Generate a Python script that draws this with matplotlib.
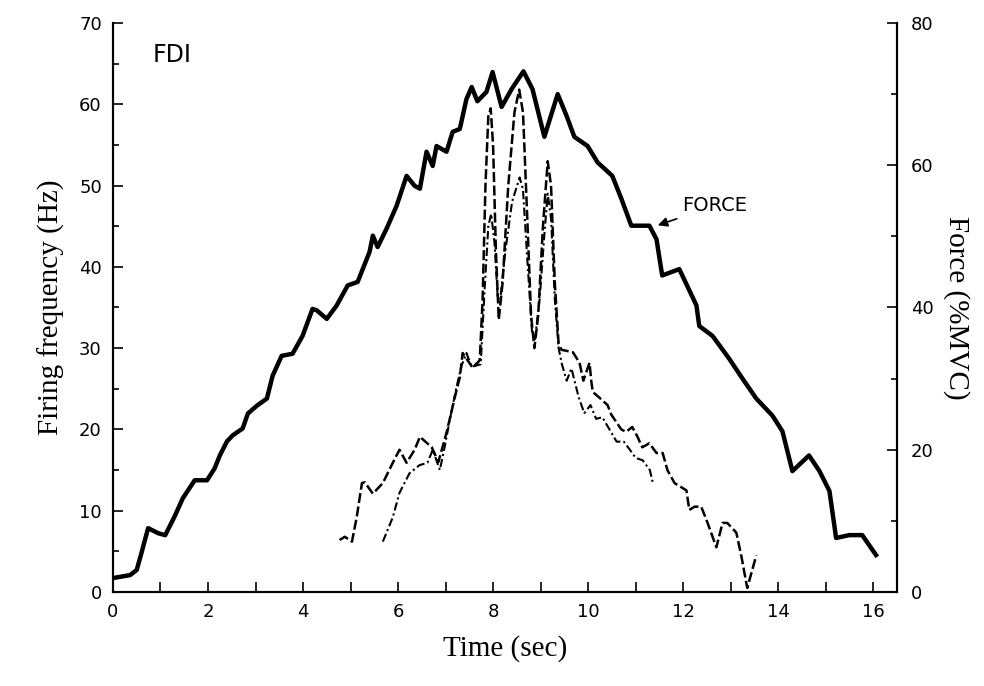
import matplotlib.pyplot as plt
import numpy as np

# force trace (%MVC, right axis)
force_t = [0.00, 0.36, 0.50, 0.61, 0.74, 0.95, 1.10, 1.30, 1.47, 1.72, 1.98, 2.14, 2.25, 2.40,
           2.52, 2.73, 2.84, 3.03, 3.24, 3.36, 3.55, 3.78, 3.99, 4.20, 4.29, 4.50, 4.71, 4.94,
           5.15, 5.40, 5.47, 5.57, 5.76, 5.97, 6.18, 6.35, 6.46, 6.60, 6.73, 6.81, 7.02, 7.15,
           7.30, 7.44, 7.55, 7.67, 7.86, 7.99, 8.18, 8.39, 8.64, 8.83, 9.08, 9.36, 9.55, 9.71,
           9.99, 10.20, 10.51, 10.70, 10.91, 11.29, 11.44, 11.56, 11.92, 12.28, 12.34, 12.62,
           12.97, 13.25, 13.54, 13.88, 14.09, 14.30, 14.65, 14.87, 15.08, 15.22, 15.50, 15.77, 16.06]
force_v = [1.96, 2.38, 3.09, 5.75, 8.98, 8.27, 7.99, 10.66, 13.18, 15.71, 15.71, 17.39, 19.21, 21.18,
           22.02, 23.0, 25.1, 26.2, 27.2, 30.4, 33.2, 33.5, 36.0, 39.8, 39.6, 38.4, 40.3, 43.1,
           43.6, 47.8, 50.1, 48.5, 51.1, 54.3, 58.5, 57.1, 56.7, 61.9, 59.9, 62.7, 61.9, 64.7,
           65.1, 69.3, 71.0, 69.0, 70.3, 73.1, 68.2, 70.7, 73.2, 70.7, 64.0, 70.0, 66.9, 64.0,
           62.7, 60.4, 58.5, 55.3, 51.5, 51.5, 49.6, 44.5, 45.4, 40.3, 37.4, 36.0,
           32.8, 30.0, 27.2, 24.8, 22.6, 17.0, 19.2, 17.0, 14.2, 7.6, 8.0, 8.0, 5.2]

# motor unit 1 (dashed), firing frequency in Hz
mu1_t = [4.77, 4.88, 5.03, 5.13, 5.24, 5.30, 5.47, 5.68, 5.89, 6.03, 6.18, 6.35, 6.46, 6.71,
         6.85, 7.02, 7.23, 7.30, 7.36, 7.57, 7.72, 7.78, 7.84, 7.90, 7.95, 8.00, 8.06, 8.12,
         8.20, 8.32, 8.45, 8.55, 8.63, 8.72, 8.80, 8.87, 8.95, 9.05, 9.15, 9.22, 9.30, 9.38,
         9.44, 9.68, 9.82, 9.90, 10.03, 10.07, 10.10, 10.24, 10.41, 10.49, 10.70, 10.80, 10.93,
         11.04, 11.14, 11.29, 11.44, 11.57, 11.67, 11.82, 12.07, 12.13, 12.24, 12.38, 12.49,
         12.62, 12.70, 12.83, 12.93, 13.12, 13.23, 13.33, 13.35, 13.54]
mu1_v = [6.4, 6.8, 6.2, 9.2, 13.4, 13.5, 12.1, 13.4, 15.9, 17.5, 15.9, 17.5, 19.1, 17.8,
         16.0, 19.6, 24.8, 26.4, 29.4, 27.6, 28.5, 36.0, 50.0, 58.5, 59.5, 55.0, 42.0, 33.5,
         38.0, 50.0, 59.0, 61.8, 59.0, 46.0, 34.0, 30.0, 34.0, 45.0, 53.0, 50.0, 38.0, 30.5,
         29.8, 29.5, 28.2, 26.0, 28.2, 25.8, 24.6, 23.9, 23.0, 21.8, 20.0, 19.7, 20.3,
         19.1, 17.8, 18.3, 17.1, 17.1, 15.0, 13.4, 12.5, 10.1, 10.5, 10.5, 8.9,
         6.8, 5.5, 8.5, 8.5, 7.3, 4.3, 1.1, 0.5, 4.5]

# motor unit 2 (dash-dot), firing frequency in Hz
mu2_t = [5.68, 5.89, 6.03, 6.24, 6.45, 6.62, 6.73, 6.88, 6.98, 7.09, 7.23, 7.34, 7.44, 7.55,
         7.67, 7.74, 7.82, 7.90, 7.96, 8.03, 8.10, 8.16, 8.26, 8.40, 8.56, 8.63, 8.72, 8.82,
         8.88, 8.98, 9.08, 9.15, 9.22, 9.30, 9.38, 9.45, 9.55, 9.65, 9.80, 9.92, 10.05, 10.17,
         10.30, 10.45, 10.60, 10.75, 10.88, 11.00, 11.15, 11.30, 11.36]
mu2_v = [6.2, 9.2, 12.2, 14.6, 15.6, 15.9, 17.5, 15.0, 17.8, 21.2, 25.2, 27.9, 29.4, 27.7,
         27.9, 28.0, 37.0, 45.0, 46.5, 43.0, 36.0, 36.5, 42.0, 48.0, 51.0, 49.5, 41.0, 32.0,
         31.0, 36.0, 44.0, 49.0, 46.0, 36.0, 30.0, 28.0, 26.0, 27.5, 24.0, 22.0, 23.0, 21.3,
         21.5, 20.0, 18.5, 18.5, 17.5, 16.5, 16.2, 15.0, 13.5]

fig = plt.figure(figsize=(9.84, 6.86), dpi=100)
ax = fig.add_axes([0.1148, 0.137, 0.7967, 0.8295])
ax2 = ax.twinx()

ax.plot(mu1_t, mu1_v, color="black", lw=1.8, dashes=(4, 1.4))
ax.plot(mu2_t, mu2_v, color="black", lw=1.5, dashes=(4, 1.5, 1, 1.5))
ax2.plot(force_t, force_v, color="black", lw=3.2, solid_joinstyle="round")

ax.set_xlim(0, 16.5)
ax.set_ylim(0, 70)
ax2.set_ylim(0, 80)

ax.set_xticks(np.arange(0, 17, 2))
ax.set_xticks(np.arange(0, 17, 1), minor=True)
ax.set_yticks(np.arange(0, 71, 10))
ax.set_yticks(np.arange(0, 71, 5), minor=True)
ax2.set_yticks(np.arange(0, 81, 20))
ax2.set_yticks(np.arange(0, 81, 10), minor=True)

for a in (ax, ax2):
    a.spines["top"].set_visible(False)
    for s in a.spines.values():
        s.set_linewidth(1.5)
ax.tick_params(which="both", direction="in", labelsize=13, width=1.2)
ax.tick_params(which="major", length=7, pad=8)
ax.tick_params(which="minor", length=4)
ax.tick_params(axis="x", which="minor", length=7)
ax2.tick_params(which="both", direction="in", labelsize=13, width=1.2, pad=10)
ax2.tick_params(which="major", length=7)
ax2.tick_params(which="minor", length=4)

serif = "Liberation Serif"
ax.set_xlabel("Time (sec)", fontsize=21, family=serif, labelpad=10)
ax.set_ylabel("Firing frequency (Hz)", fontsize=21, family=serif, labelpad=10)
ax2.set_ylabel("Force (%MVC)", fontsize=21, family=serif, rotation=-90, labelpad=26)

ax.text(0.84, 66, "FDI", fontsize=17, va="center", ha="left")
ax2.annotate("FORCE", xy=(11.44, 51.5), xytext=(11.98, 54.3), fontsize=14,
             va="center", ha="left",
             arrowprops=dict(arrowstyle="-|>", color="black", lw=1.2,
                             shrinkA=2, shrinkB=1, mutation_scale=14))

plt.savefig("out.png", dpi=100)
